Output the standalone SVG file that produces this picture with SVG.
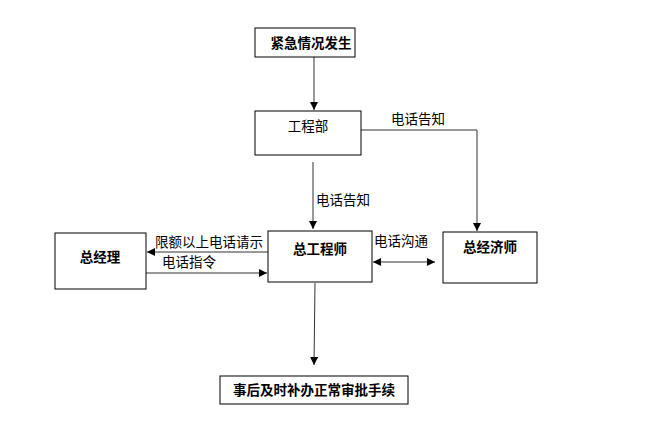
<svg xmlns="http://www.w3.org/2000/svg" width="670" height="437" viewBox="0 0 670 437">
<style>
.box{fill:#fff;stroke:#000;stroke-width:1}
.t{font-family:"Noto Sans CJK SC","Liberation Sans",sans-serif;font-size:13.5px;fill:#000}
.b{font-weight:bold}
.ln{fill:none;stroke:#333;stroke-width:1}
</style>
<defs>
<marker id="ah" viewBox="0 0 10 10" refX="10" refY="5" markerWidth="8" markerHeight="8" markerUnits="userSpaceOnUse" orient="auto-start-reverse">
<path d="M0,0 L10,5 L0,10 z" fill="#000"/>
</marker>
</defs>
<rect width="670" height="437" fill="#fff"/>
<g id="connectors">
<line class="ln" x1="314" y1="57" x2="314" y2="110" marker-end="url(#ah)"/>
<polyline class="ln" points="361,130 477,130 477,231" marker-end="url(#ah)"/>
<line class="ln" x1="313" y1="162" x2="313" y2="229" marker-end="url(#ah)"/>
<line class="ln" x1="268" y1="252" x2="147" y2="252" marker-end="url(#ah)"/>
<line class="ln" x1="146" y1="273" x2="267" y2="273" marker-end="url(#ah)"/>
<line class="ln" x1="373" y1="262" x2="435" y2="262" marker-start="url(#ah)" marker-end="url(#ah)"/>
<line class="ln" x1="315" y1="283" x2="314" y2="365" marker-end="url(#ah)"/>
<text class="t" x="391" y="124">电话告知</text>
<text class="t" x="316" y="205">电话告知</text>
<text class="t" x="155" y="247">限额以上电话请示</text>
<text class="t" x="162" y="267">电话指令</text>
<text class="t" x="374" y="246">电话沟通</text>
</g>
<g id="n1"><rect class="box" x="255" y="28" width="100" height="29"/><text class="t b" x="311" y="48" text-anchor="middle">紧急情况发生</text></g>
<g id="n2"><rect class="box" x="255" y="111" width="106" height="44"/><text class="t" x="308" y="131" text-anchor="middle">工程部</text></g>
<g id="n3"><rect class="box" x="268" y="231" width="104" height="51"/><text class="t b" x="320" y="254" text-anchor="middle">总工程师</text></g>
<g id="n4"><rect class="box" x="443" y="232" width="94" height="51"/><text class="t b" x="490" y="252" text-anchor="middle">总经济师</text></g>
<g id="n5"><rect class="box" x="55" y="233" width="91" height="56"/><text class="t b" x="100" y="262" text-anchor="middle">总经理</text></g>
<g id="n6"><rect class="box" x="220" y="376" width="188" height="28"/><text class="t b" x="314" y="395" text-anchor="middle">事后及时补办正常审批手续</text></g>
</svg>
